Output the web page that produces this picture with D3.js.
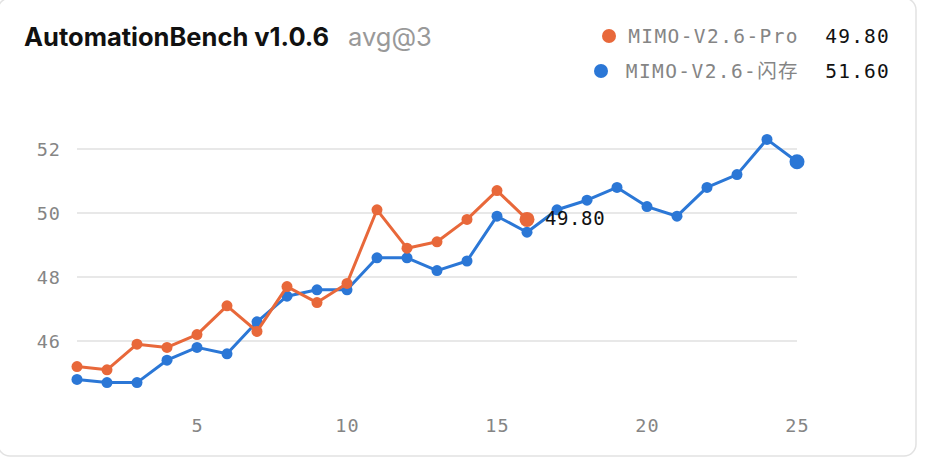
<!DOCTYPE html>
<html><head><meta charset="utf-8">
<script src="https://cdn.jsdelivr.net/npm/d3@7/dist/d3.min.js"></script>
<style>
html,body{margin:0;padding:0;background:#fff;overflow:hidden;}
svg{display:block;}
</style></head>
<body>
<svg id="chart" width="926" height="476"></svg>
<script>
const steps = d3.range(1, 26);
const proValues = [45.2,45.1,45.9,45.8,46.2,47.1,46.3,47.7,47.2,47.8,50.1,48.9,49.1,49.8,50.7,49.8];
const flashValues = [44.8,44.7,44.7,45.4,45.8,45.6,46.6,47.4,47.6,47.6,48.6,48.6,48.2,48.5,49.9,49.4,50.1,50.4,50.8,50.2,49.9,50.8,51.2,52.3,51.6];
const yTicks = [46,48,50,52];
const xTicks = [5,10,15,20,25];
const seriesNames = ["MIMO-V2.6-Pro","MIMO-V2.6-闪存"];
const seriesLabels = ["49.80","51.60"];
const colors = ["#E8683A","#2B77D6"];

const svg = d3.select("#chart");
const mono = "'DejaVu Sans Mono', 'Liberation Mono', monospace";

// card
svg.append("rect").attr("x",-2).attr("y",-2).attr("width",918).attr("height",458)
  .attr("rx",12).attr("fill","#fff").attr("stroke","#e2e2e2").attr("stroke-width",1.5);

const x = d3.scaleLinear().domain([1,25]).range([77,797]);
const y = d3.scaleLinear().domain([44,53]).range([405,117]);

// grid
svg.append("g").selectAll("line").data(yTicks).join("line")
  .attr("x1",x(1)).attr("x2",x(25)).attr("y1",d=>y(d)).attr("y2",d=>y(d))
  .attr("stroke","#e8e8e8").attr("stroke-width",2);

// y axis labels
const yAxis = d3.axisLeft(y).tickValues(yTicks).tickSize(0).tickPadding(0).tickFormat(d3.format("d"));
const yg = svg.append("g").attr("transform","translate(61,0)").call(yAxis);
yg.select(".domain").remove();
yg.selectAll("text").attr("font-family",mono).attr("font-size",18.5).attr("fill","#858585")
  .attr("letter-spacing",1).attr("dy","0.35em");

// x axis labels
const xAxis = d3.axisBottom(x).tickValues(xTicks).tickSize(0).tickPadding(0).tickFormat(d3.format("d"));
const xg = svg.append("g").attr("transform","translate(0,418)").call(xAxis);
xg.select(".domain").remove();
xg.selectAll("text").attr("font-family",mono).attr("font-size",18.5).attr("fill","#858585")
  .attr("letter-spacing",1).attr("dy","0.75em");

const line = d3.line().x((d,i)=>x(steps[i])).y(d=>y(d));

function drawSeries(vals, color){
  const g = svg.append("g");
  g.append("path").datum(vals).attr("d",line).attr("fill","none")
    .attr("stroke",color).attr("stroke-width",3).attr("stroke-linejoin","round");
  g.selectAll("circle").data(vals).join("circle")
    .attr("cx",(d,i)=>x(steps[i])).attr("cy",d=>y(d))
    .attr("r",(d,i)=> i===vals.length-1 ? 7.5 : 5.5)
    .attr("fill",color);
}
drawSeries(flashValues, colors[1]);
drawSeries(proValues, colors[0]);

// end annotation for Pro
const lastPro = proValues.length-1;
svg.append("text").attr("x",x(steps[lastPro])+(545-x(16))).attr("y",y(proValues[lastPro])+6)
  .attr("font-family",mono).attr("font-size",19).attr("fill","#111").attr("letter-spacing",0.6)
  .text(d3.format(".2f")(proValues[lastPro]));

// title
const title = svg.append("text").attr("x",24).attr("y",46).attr("font-family","Inter, 'Open Sans', sans-serif");
title.append("tspan").attr("font-size",25.5).attr("font-weight",700).attr("fill","#111").text("AutomationBench v1.0.6");
title.append("tspan").attr("x",348).attr("font-size",25.5).attr("font-weight",400).attr("fill","#999").text("avg@3");

// legend
const legendRows = [
  {name:seriesNames[0], val:seriesLabels[0], color:colors[0], cy:36, cx:609, base:43},
  {name:seriesNames[1], val:seriesLabels[1], color:colors[1], cy:71, cx:601, base:78}
];
const lg = svg.append("g");
legendRows.forEach(r=>{
  lg.append("circle").attr("cx",r.cx).attr("cy",r.cy).attr("r",7).attr("fill",r.color);
  lg.append("text").attr("x",799).attr("y",r.base).attr("text-anchor","end")
    .attr("font-family",mono+", 'Noto Sans CJK SC'").attr("font-size",19.5).attr("fill","#858585")
    .attr("letter-spacing",1.4).text(r.name);
  lg.append("text").attr("x",890).attr("y",r.base).attr("text-anchor","end")
    .attr("font-family",mono).attr("font-size",19.5).attr("fill","#111")
    .attr("letter-spacing",1.2).text(r.val);
});
</script>
</body></html>
